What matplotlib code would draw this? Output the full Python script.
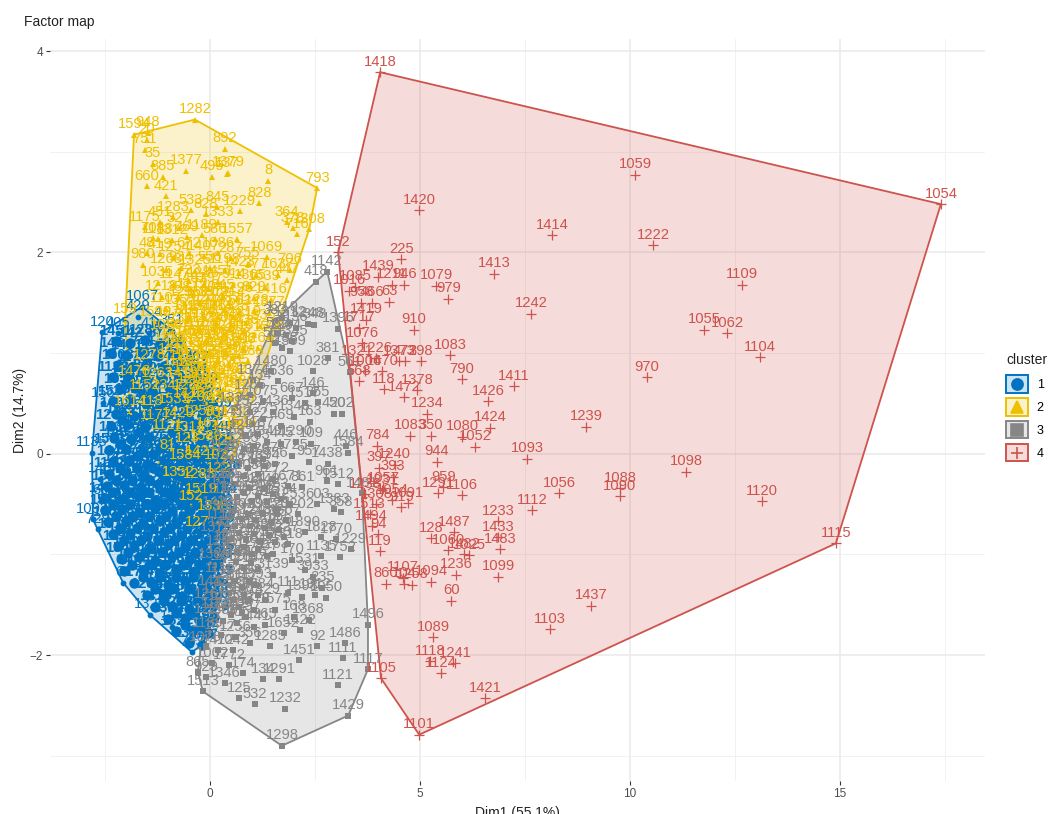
import matplotlib
matplotlib.use("Agg")
import matplotlib.pyplot as plt
from matplotlib.lines import Line2D
from matplotlib.patches import Polygon, Rectangle
from matplotlib.legend_handler import HandlerBase

plt.rcParams['font.family'] = ['Liberation Sans', 'DejaVu Sans']

cluster_names = ['1', '2', '3', '4']
cluster_colors = ['#0073C2', '#EFC000', '#868686', '#CD534C']
cluster_markers = ['o', '^', 's', '+']
x_ticks = [0, 5, 10, 15]
y_ticks = [-2, 0, 2, 4]
x_title = 'Dim1 (55.1%)'
y_title = 'Dim2 (14.7%)'
plot_title = 'Factor map'

blue_outer = [(-2.57,1.21,120),(-1.62,1.46,1067),(-1.72,1.36,429),(-2.2,1.2,405),(-2.81,0.01,1135),(-2.79,-0.65,1093),(-2.67,-0.75,729),
(-2.07,-1.28,61),(-1.43,-1.6,1326),(-0.43,-1.97,793),(-0.9,-1.72,127),(-2.62,-0.25,146),(-2.6,-0.46,66),(-2.55,0.5,156),
(-1.45,1.2,41),(-1.25,1.3,4),(-0.9,1.22,351),(-0.75,1.02,4)]

blue_dense = [(-2.25,1.12,1451),(-1.9,1.1,142),(-1.55,1.13,1288),(-1.2,1.1,377),
(-2.35,1.0,146),(-2.0,0.98,1491),(-1.62,1.01,748),(-1.25,0.97,1521),(-0.85,1.0,226),
(-2.2,0.88,1508),(-1.85,0.86,1170),(-1.5,0.9,562),(-1.1,0.87,1344),(-0.7,0.89,913),(-0.3,0.86,307),
(-2.3,0.76,1133),(-1.95,0.75,1302),(-1.55,0.78,846),(-1.15,0.74,1419),(-0.75,0.77,1227),(-0.35,0.75,684),
(-2.15,0.64,1555),(-1.78,0.65,1204),(-1.38,0.62,473),(-0.98,0.66,1366),(-0.58,0.63,952),(-0.18,0.65,1189),
(-2.3,0.52,1527),(-1.9,0.54,1314),(-1.5,0.5,205),(-1.1,0.53,1176),(-0.7,0.51,638),(-0.3,0.54,1462),(0.05,0.5,871),
(-2.25,0.4,1402),(-1.82,0.38,1268),(-1.42,0.41,534),(-1.0,0.39,1338),(-0.6,0.42,1153),(-0.2,0.38,772),(0.12,0.4,1509),
(-2.35,0.28,1249),(-1.95,0.3,1131),(-1.55,0.27,1445),(-1.15,0.29,617),(-0.75,0.26,1382),(-0.35,0.3,1076),(0.05,0.27,489),
(-2.28,0.16,1536),(-1.88,0.15,1295),(-1.45,0.17,936),(-1.05,0.14,1217),(-0.65,0.18,722),(-0.25,0.15,1354),(0.15,0.16,1045),
(-2.4,0.04,1573),(-2.0,0.05,1186),(-1.6,0.02,341),(-1.2,0.06,1263),(-0.8,0.03,889),(-0.4,0.05,1407),(0.0,0.02,1112),(0.3,0.05,655),
(-2.32,-0.08,1444),(-1.92,-0.07,1278),(-1.5,-0.1,576),(-1.1,-0.06,1329),(-0.7,-0.09,1018),(-0.3,-0.07,263),(0.1,-0.1,1492),
(-2.4,-0.2,1162),(-2.0,-0.19,1375),(-1.6,-0.22,804),(-1.2,-0.18,1241),(-0.8,-0.21,445),(-0.4,-0.2,1356),(0.0,-0.19,997),(0.35,-0.22,1168),
(-2.45,-0.32,1512),(-2.05,-0.31,1207),(-1.65,-0.33,691),(-1.25,-0.3,1391),(-0.85,-0.34,1143),(-0.45,-0.31,538),(-0.05,-0.33,1274),(0.3,-0.3,826),
(-2.5,-0.44,1423),(-2.1,-0.45,1182),(-1.7,-0.42,373),(-1.3,-0.46,1309),(-0.9,-0.43,1126),(-0.5,-0.45,756),(-0.1,-0.42,1468),(0.25,-0.44,1034),
(-2.5,-0.56,1539),(-2.1,-0.55,1253),(-1.7,-0.58,915),(-1.3,-0.54,1347),(-0.9,-0.57,618),(-0.5,-0.55,1198),(-0.1,-0.58,1411),(0.25,-0.56,282),
(-2.42,-0.68,1065),(-2.0,-0.67,1385),(-1.6,-0.7,743),(-1.2,-0.66,1229),(-0.8,-0.69,1473),(-0.4,-0.67,592),(0.0,-0.7,1158),(0.3,-0.68,937),
(-2.3,-0.8,1516),(-1.9,-0.79,1287),(-1.5,-0.82,464),(-1.1,-0.78,1362),(-0.7,-0.81,1095),(-0.3,-0.79,821),(0.1,-0.82,1434),
(-2.2,-0.92,1191),(-1.8,-0.91,1336),(-1.4,-0.94,678),(-1.0,-0.9,1255),(-0.6,-0.93,1007),(-0.2,-0.91,1489),(0.15,-0.94,356),
(-2.1,-1.04,1546),(-1.7,-1.03,1219),(-1.3,-1.06,905),(-0.9,-1.02,1378),(-0.5,-1.05,1149),(-0.1,-1.03,527),(0.2,-1.06,1312),
(-2.05,-1.16,64),(-1.6,-1.15,1444),(-1.2,-1.18,763),(-0.8,-1.14,1288),(-0.4,-1.17,1056),(0.0,-1.15,1397),
(-1.8,-1.28,1176),(-1.4,-1.27,648),(-1.0,-1.3,1345),(-0.6,-1.26,1211),(-0.2,-1.29,892),(0.15,-1.27,1503),
(-1.5,-1.4,1238),(-1.1,-1.39,1459),(-0.7,-1.42,587),(-0.3,-1.38,1122),(0.05,-1.41,1368),
(-1.3,-1.52,1416),(-0.9,-1.51,1074),(-0.5,-1.54,719),(-0.1,-1.5,1265),
(-1.0,-1.64,1332),(-0.6,-1.63,1481),(-0.2,-1.66,946),(0.1,-1.62,1173),
(-0.8,-1.76,1527),(-0.4,-1.75,1208),(-0.05,-1.78,632),(-0.5,-1.88,1394),(-0.2,-1.9,1087),
(-2.0,0.7,1561),(-1.6,0.58,1283),(-1.2,0.45,1456),(-0.8,0.58,1091),(-0.4,0.46,1347),(-2.1,0.34,1522),(-1.7,0.22,1164),(-1.3,0.35,1408),(-0.9,0.22,1275),(-0.5,0.34,1139),
(-2.15,0.1,1483),(-1.75,-0.02,1226),(-1.35,0.0,1367),(-0.95,-0.02,1154),(-0.55,-0.03,1298),(-0.15,-0.02,1072),(-2.15,-0.14,1439),(-1.75,-0.14,1317),(-1.35,-0.14,1086),(-0.95,-0.14,1243),(-0.55,-0.14,1405),(-0.15,-0.14,1181),(0.2,-0.04,1329),
(-2.25,-0.26,1518),(-1.85,-0.26,1124),(-1.45,-0.26,1376),(-1.05,-0.26,1245),(-0.65,-0.26,1093),(-0.25,-0.26,1462),(0.15,-0.26,1208),
(-2.3,-0.38,1351),(-1.9,-0.38,1172),(-1.5,-0.38,1294),(-1.1,-0.38,1437),(-0.7,-0.38,1056),(-0.3,-0.38,1383),(0.1,-0.38,1219),
(-2.3,-0.5,1264),(-1.9,-0.5,1408),(-1.5,-0.5,1135),(-1.1,-0.5,1372),(-0.7,-0.5,1281),(-0.3,-0.5,1096),(0.1,-0.5,1443),
(-2.25,-0.62,1117),(-1.85,-0.62,1356),(-1.45,-0.62,1229),(-1.05,-0.62,1474),(-0.65,-0.62,1183),(-0.25,-0.62,1305),(0.15,-0.62,1068),
(-2.15,-0.74,1392),(-1.75,-0.74,1241),(-1.35,-0.74,1163),(-0.95,-0.74,1327),(-0.55,-0.74,1458),(-0.15,-0.74,1206),(0.2,-0.74,1049),
(-2.05,-0.86,1284),(-1.65,-0.86,1419),(-1.25,-0.86,1136),(-0.85,-0.86,1375),(-0.45,-0.86,1228),(-0.05,-0.86,1097),
(-1.95,-0.98,1448),(-1.55,-0.98,1215),(-1.15,-0.98,1362),(-0.75,-0.98,1179),(-0.35,-0.98,1306),(0.05,-0.98,1423),
(-1.85,-1.1,1252),(-1.45,-1.1,1391),(-1.05,-1.1,1108),(-0.65,-1.1,1346),(-0.25,-1.1,1273),(0.15,-1.1,1185),
(-1.6,-1.22,1337),(-1.2,-1.22,1164),(-0.8,-1.22,1429),(-0.4,-1.22,1258),(-0.05,-1.22,1372),
(-1.3,-1.34,1196),(-0.9,-1.34,1311),(-0.5,-1.34,1467),(-0.1,-1.34,1234),(-1.1,-1.46,1383),(-0.7,-1.46,1152),(-0.3,-1.46,1275),(0.05,-1.5,1406),
(-0.8,-1.58,1218),(-0.4,-1.58,1349),(-0.6,-1.7,1126),(-0.2,-1.72,1495)]

yellow = [(-1.81,3.17,1594),(-1.48,3.19,948),(-0.36,3.32,1282),(2.55,2.64,793),(-1.5,3.12,20),(0.36,3.03,892),(-0.57,2.81,1377),
(0.05,2.75,499),(0.43,2.79,1379),(0.4,2.78,137),(1.38,2.71,8),(-1.5,2.66,660),(-1.55,3.02,751),(-1.36,2.88,35),(-1.12,2.75,385),(-1.05,2.56,421),
(1.17,2.49,828),(0.17,2.45,845),(0.71,2.41,1229),(1.83,2.3,364),(2.36,2.23,1308),(1.98,2.24,378),(2.07,2.18,716),(0.64,2.13,1557),
(-1.36,2.14,704),(-0.88,2.35,1283),(1.83,1.73,447),(-1.6,1.88,980),(-1.5,1.99,48),(0.9,1.89,755),(1.9,1.83,706),(-2.02,1.33,159),
(0.71,0.75,45),(-1.02,-0.02,81),(1.35,1.95,1069),(1.62,1.78,1637),(-1.55,2.25,1175),(-1.2,2.3,451),(-0.75,2.24,327),
(-0.45,2.42,533),(-0.1,2.38,828),(0.2,2.3,1333),(-1.25,2.13,1188),(-0.9,2.12,1312),(-0.55,2.15,469),(-0.2,2.17,1189),(0.12,2.13,586),
(-1.2,1.98,419),(-0.85,1.95,1254),(-0.5,1.99,672),(-0.15,1.96,1407),(0.2,1.99,1086),(0.5,1.94,287),
(-1.05,1.83,1263),(-0.7,1.85,934),(-0.35,1.82,1325),(0.0,1.85,556),(0.35,1.83,1198),(0.7,1.8,1423),(1.1,1.78,377),
(-1.25,1.7,1035),(-0.85,1.68,1147),(-0.5,1.72,723),(-0.15,1.69,1286),(0.2,1.71,1451),(0.55,1.68,914),(0.95,1.67,1365),(1.3,1.66,1539),
(-1.15,1.56,1218),(-0.75,1.55,388),(-0.4,1.58,1172),(-0.05,1.55,1304),(0.3,1.57,645),(0.65,1.54,1296),(1.05,1.55,829),(1.45,1.53,1416),
(-1.05,1.44,1107),(-0.7,1.42,1355),(-0.35,1.45,702),(0.0,1.42,1248),(0.35,1.44,1483),(0.7,1.41,563),(1.05,1.42,1128),(1.4,1.4,1377),
(-1.3,1.3,1590),(-0.9,1.3,1274),(-0.55,1.32,816),(-0.2,1.29,1163),(0.15,1.31,1402),(0.5,1.28,478),(0.85,1.3,1219),(1.2,1.27,1335),
(-1.05,1.18,1056),(-0.7,1.18,1441),(-0.35,1.2,637),(0.0,1.17,1292),(0.35,1.19,1124),(0.7,1.16,985),(1.05,1.18,1372),(1.4,1.16,1508),
(-0.95,1.06,1236),(-0.6,1.05,1383),(-0.25,1.08,754),(0.1,1.05,1169),(0.45,1.07,1315),(0.8,1.04,596),(1.15,1.05,1264),
(-0.85,0.94,1431),(-0.5,0.93,1078),(-0.15,0.96,825),(0.2,0.93,1357),(0.55,0.95,1206),(0.9,0.92,1488),
(-1.45,0.88,1278),(-0.75,0.82,1195),(-0.4,0.81,1342),(-0.05,0.84,916),(0.3,0.81,1457),(0.65,0.83,735),
(-1.8,0.72,1476),(-1.25,0.7,1263),(-0.65,0.7,1419),(-0.3,0.69,1101),(0.05,0.72,568),(0.4,0.69,1325),(0.7,0.62,1386),
(-1.55,0.58,1152),(-1.0,0.58,1347),(-0.5,0.58,1282),(-0.15,0.57,864),(0.2,0.6,1473),(0.5,0.55,1196),
(-1.9,0.42,1614),(-1.4,0.42,118),(-0.85,0.44,1533),(-0.3,0.46,1207),(0.05,0.45,742),(0.35,0.44,1368),
(-1.3,0.28,1177),(-0.75,0.3,1429),(-0.25,0.32,1258),(0.15,0.31,936),(0.5,0.3,1122),
(-1.0,0.18,1121),(-0.5,0.16,1314),(-0.05,0.2,162),(0.4,0.17,1495),(0.75,0.2,1506),
(-0.55,0.05,123),(-0.1,0.07,1589),(0.35,0.02,129),(-0.6,-0.12,1584),(-0.2,-0.08,1421),(0.25,-0.12,1027),
(-0.75,-0.28,1352),(-0.25,-0.3,1283),(0.2,-0.25,122),(-0.45,-0.52,152),(-0.2,-0.45,1519),(0.08,-0.62,1338),(-0.3,-0.78,127),
(-0.6,1.24,1361),(-0.25,1.24,1143),(0.1,1.24,1287),(0.45,1.24,1052),(0.8,1.22,1436),(-0.8,1.12,1218),(-0.45,1.12,1375),(-0.1,1.12,1096),(0.25,1.12,1264),(0.6,1.1,1403),
(-0.7,1.0,1327),(-0.35,1.0,1154),(0.0,1.0,1482),(0.35,1.0,1209),(0.7,0.98,1361),(-0.6,0.88,1173),(-0.25,0.88,1298),(0.1,0.88,1445),(0.45,0.88,1082),
(-0.5,0.76,1336),(-0.15,0.76,1217),(0.2,0.76,1091),(0.5,0.74,1452),(-0.4,0.64,1268),(-0.05,0.64,1185),(0.3,0.64,1379),(0.6,0.48,1124),(-0.5,0.5,1416),(-0.1,0.5,1235),
(-0.5,1.36,1192),(-0.15,1.36,1347),(0.2,1.36,1063),(0.55,1.36,1428),(-0.6,1.5,1256),(-0.25,1.5,1139),(0.1,1.5,1372),(0.45,1.5,1214),(-0.45,1.64,1483),(-0.05,1.64,1197)]

gray = [(1.71,-2.9,1298),(3.29,-2.6,1429),(1.79,-2.53,1232),(3.05,-2.3,1121),(3.17,-2.03,1111),(3.76,-2.14,1117),(3.76,-1.7,1496),(3.21,-1.88,1486),
(2.12,-2.05,1451),(1.64,-2.24,1291),(1.26,-2.24,134),(1.07,-2.49,532),(0.69,-2.43,125),(0.79,-2.18,174),(-0.17,-2.36,1513),(-0.29,-2.17,865),
(0.95,-1.88,356),(1.43,-1.91,1285),(2.55,-1.91,92),(2.76,-1.43,1050),(2.67,-1.33,235),(2.57,0.51,355),(2.38,0.32,163),(3.14,0.4,202),(2.95,0.4,450),
(3.29,0.01,1584),(3.24,0.08,446),(3.62,-0.39,1481),(3.12,-0.58,358),(2.45,0.82,1028),(2.81,0.95,381),(3.33,0.81,561),(3.05,1.24,1396),
(2.33,1.29,1248),(2.48,1.28,348),(2.79,1.81,1142),(2.52,1.71,418),(1.55,1.32,383),(1.72,1.35,1219),(1.9,1.3,1312),(2.05,1.25,136),(1.6,1.2,582),
(1.8,1.18,1204),(1.95,1.12,1345),(1.55,1.1,566),(1.72,1.05,1288),(1.9,1.02,1359),(1.02,0.73,1374),(1.2,0.68,134),(1.45,0.82,1480),(1.62,0.72,6536),
(1.95,0.55,667),(2.25,0.5,1517),(2.0,0.37,1346),(1.5,0.42,1436),(1.7,0.28,469),(1.25,0.35,1275),(2.45,0.6,146),
(1.0,0.3,1322),(1.35,0.12,1349),(1.7,0.1,445),(2.05,0.12,1290),(2.4,0.1,109),(1.55,-0.1,756),(1.95,-0.02,1725),(2.35,-0.08,957),(2.8,-0.1,1438),
(1.25,-0.05,1267),(1.85,-0.32,1671),(2.2,-0.33,861),(2.78,-0.27,961),(3.05,-0.3,1512),(2.55,-0.5,603),(2.95,-0.55,1383),(2.1,-0.6,1202),
(1.6,-0.6,120),(2.25,-0.78,1890),(2.65,-0.83,1828),(3.0,-0.85,1770),(3.35,-0.95,1229),(3.1,-1.03,1752),(2.65,-1.02,1135),(1.95,-1.05,170),(2.25,-1.15,1531),
(2.45,-1.22,3933),(1.5,-1.2,3139),(1.85,-1.38,111),(2.2,-1.42,1398),(2.5,-1.4,1912),(1.55,-1.55,1575),(2.0,-1.62,168),(2.35,-1.65,1368),(1.3,-1.7,965),
(1.75,-1.78,1652),(2.15,-1.75,1422),(0.75,-1.58,859),
(0.95,0.58,1265),(0.6,0.45,1334),(0.95,0.42,1521),(1.25,0.52,1075),(0.6,0.32,1432),(0.85,0.18,1294),(1.15,0.2,1187),(0.45,0.12,1368),(0.8,0.05,1255),(1.05,0.08,1463),
(0.35,-0.02,1126),(0.7,-0.1,1349),(1.05,-0.07,1578),(0.45,-0.17,1218),(0.8,-0.22,1403),(1.15,-0.2,936),(1.5,-0.25,1272),(0.25,-0.3,1186),(0.6,-0.3,1357),(0.95,-0.34,1024),(1.3,-0.35,1449),
(0.3,-0.45,1162),(0.65,-0.43,1295),(1.0,-0.47,1338),(1.35,-0.48,816),(1.7,-0.45,1574),(0.2,-0.58,1423),(0.55,-0.57,1217),(0.9,-0.6,1089),(1.25,-0.6,1365),(1.6,-0.55,745),(1.9,-0.5,1253),
(0.25,-0.7,1158),(0.6,-0.72,1331),(0.95,-0.72,1487),(1.3,-0.74,1204),(1.65,-0.76,926),(0.15,-0.83,1376),(0.5,-0.85,1142),(0.85,-0.85,1268),(1.2,-0.87,1455),(1.55,-0.88,1093),(1.85,-0.9,1318),
(0.3,-0.97,1245),(0.65,-0.98,1412),(1.0,-1.0,1177),(1.35,-1.02,857),(0.1,-1.1,1389),(0.45,-1.12,1036),(0.8,-1.13,1264),(1.15,-1.14,1471),(0.25,-1.24,1155),(0.6,-1.26,1328),(0.95,-1.26,998),
(0.1,-1.37,1442),(0.45,-1.38,1213),(0.8,-1.4,1356),(1.15,-1.4,1084),(0.0,-1.5,1267),(0.35,-1.52,1495),(0.7,-1.52,1132),(1.05,-1.55,1378),(0.0,-1.65,1224),(0.3,-1.66,1356),(0.65,-1.68,905),(1.05,-1.72,1441),
(-0.05,-1.78,1189),(0.25,-1.8,1317),(0.6,-1.82,1256),(-0.1,-1.92,1078),(0.2,-1.95,1472),(0.55,-1.95,1042),(0.05,-2.08,1002),(0.45,-2.1,1772),(-0.1,-2.22,929),(0.35,-2.28,1346),
(0.5,-0.05,1283),(0.9,-0.14,1176),(1.3,-0.12,1394),(0.4,-0.36,1057),(0.8,-0.38,1326),(1.15,-0.42,1208),(1.5,-0.4,1463),(0.45,-0.62,1339),(0.75,-0.65,1172),(1.1,-0.66,1248),(1.45,-0.68,1095),(1.8,-0.66,1367),
(0.35,-0.78,1414),(0.7,-0.79,1283),(1.05,-0.8,1136),(1.4,-0.81,1352),(1.75,-0.83,1227),(0.45,-0.92,1196),(0.8,-0.93,1378),(1.15,-0.95,1042),(1.5,-1.0,1263),(0.3,-1.05,1324),(0.62,-1.07,1159),(0.98,-1.08,1406),
(0.42,-1.3,1281),(0.75,-1.32,1147),(1.1,-1.3,1393),(0.2,-1.45,1215),(0.55,-1.45,1368),(0.9,-1.46,1073),(1.3,-1.45,1429),(0.15,-1.6,1186),(0.5,-1.6,1332),(0.85,-1.62,1257)]

red = [(4.05,3.79,1418),(10.12,2.77,1059),(17.4,2.48,1054),(4.98,2.42,1420),(8.14,2.17,1414),(10.55,2.07,1222),(3.05,2.0,152),(4.55,1.93,225),
(6.76,1.79,1413),(12.67,1.68,1109),(5.38,1.67,1079),(5.67,1.54,979),(4.0,1.76,1439),(4.33,1.68,1211),(4.62,1.68,946),(7.64,1.39,1242),(3.86,1.5,466),
(4.26,1.51,63),(3.31,1.62,1016),(3.45,1.66,1085),(3.6,1.5,958),(3.71,1.33,1419),(4.86,1.23,910),(11.76,1.23,1055),(12.31,1.2,1062),(13.1,0.96,1104),
(10.4,0.76,970),(5.71,0.98,1083),(5.02,0.92,398),(6.0,0.74,790),(7.24,0.67,1411),(6.62,0.52,1426),(5.17,0.4,1234),(4.93,0.63,1378),(4.62,0.56,1472),
(4.14,0.64,118),(3.55,0.72,568),(8.95,0.27,1239),(6.67,0.26,1424),(5.26,0.18,350),(4.76,0.18,1083),(6.0,0.17,1080),(6.31,0.07,1052),(7.55,-0.05,1093),
(3.98,0.08,784),(5.4,-0.08,944),(11.33,-0.18,1098),(9.76,-0.34,1088),(9.76,-0.42,1090),(13.14,-0.47,1120),(14.9,-0.89,1115),(8.31,-0.39,1056),
(7.67,-0.56,1112),(6.0,-0.41,1106),(6.86,-0.67,1233),(6.86,-0.83,1433),(6.9,-0.95,1483),(5.81,-0.78,1487),(5.26,-0.84,128),(5.67,-0.96,1060),
(6.05,-1.0,1482),(6.17,-1.01,1025),(6.86,-1.22,1099),(5.86,-1.2,1236),(5.74,-1.46,60),(5.26,-1.27,1094),(4.6,-1.23,1107),(4.81,-1.3,1258),(4.62,-1.29,104),
(4.19,-1.29,860),(9.07,-1.51,1437),(8.1,-1.74,1103),(5.31,-1.82,1089),(5.24,-2.06,1118),(5.83,-2.08,1241),(5.5,-2.18,1124),(6.55,-2.43,1421),(4.07,-2.23,1105),
(4.98,-2.79,1101),(4.05,-0.97,119),(4.02,-0.14,397),(4.4,-0.11,1240),(4.36,-0.23,393),(4.1,-0.36,1231),(5.55,-0.33,959),(5.43,-0.39,1291),(4.33,-0.46,1054),
(4.71,-0.49,1091),(4.55,-0.53,919),(4.12,-0.34,1057),(3.7,-0.4,1238),(3.8,-0.6,1513),(3.95,-0.5,1308),(3.85,-0.72,1494),(4.0,-0.8,94),(3.55,1.25,1717),
(3.62,1.1,1076),(3.5,0.92,1321),(3.95,0.95,1226),(4.5,0.92,1373),(4.65,0.92,472),(3.7,0.82,1006),(4.1,0.82,1470)]

series = [blue_outer + blue_dense, yellow, gray, red]


def convex_hull(points):
    pts = sorted(set((p[0], p[1]) for p in points))
    def half(seq):
        out = []
        for p in seq:
            while len(out) > 1 and ((out[-1][0]-out[-2][0])*(p[1]-out[-2][1]) -
                                    (out[-1][1]-out[-2][1])*(p[0]-out[-2][0])) <= 0:
                out.pop()
            out.append(p)
        return out[:-1]
    return half(pts) + half(pts[::-1])


class KeyHandler(HandlerBase):
    def __init__(self, color, marker):
        super().__init__()
        self.color, self.marker = color, marker

    def create_artists(self, legend, orig, xd, yd, width, height, fontsize, trans):
        r = Rectangle((-xd, -yd), width, height, facecolor=self.color + '33',
                      edgecolor=self.color, linewidth=1.4, transform=trans)
        m = Line2D([-xd + width/2], [-yd + height/2], marker=self.marker, color=self.color,
                   markersize=8, markeredgewidth=1.2, linestyle='none', transform=trans)
        return [r, m]


fig = plt.figure(figsize=(10.5, 8.14), dpi=100)
ax = fig.add_axes([50/1050, 1-781/814, 935/1050, 742/814])
ax.set_xlim(-3.81, 18.45)
ax.set_ylim(-3.25, 4.12)

ax.set_xticks(x_ticks)
ax.set_yticks(y_ticks)
ax.set_xticks([-2.5, 2.5, 7.5, 12.5, 17.5], minor=True)
ax.set_yticks([-3, -1, 1, 3], minor=True)
ax.grid(True, which='major', color='#E9E9E9', linewidth=1.1)
ax.grid(True, which='minor', color='#F1F1F1', linewidth=0.7)
ax.set_axisbelow(True)
for s in ax.spines.values():
    s.set_visible(False)
ax.tick_params(which='minor', length=0)
ax.tick_params(which='major', length=3, width=0.8, color='#333333', labelsize=8.5, labelcolor='#4D4D4D', pad=2)
ax.set_xlabel(x_title, fontsize=10, labelpad=4, color='#222222')
ax.set_ylabel(y_title, fontsize=10, labelpad=2, color='#222222')
fig.text(24/1050, 1-22/814, plot_title, fontsize=10, ha='left', va='center', color='#222222')

for pts, c in zip(series, cluster_colors):
    ax.add_patch(Polygon(convex_hull(pts), closed=True, facecolor=c, alpha=0.2, edgecolor='none', zorder=1))
    ax.add_patch(Polygon(convex_hull(pts), closed=True, fill=False, edgecolor=c, linewidth=1.3, zorder=1.2))

for i, (pts, c, m) in enumerate(zip(series, cluster_colors, cluster_markers)):
    ax.plot([p[0] for p in pts], [p[1] for p in pts], linestyle='none', marker=m, color=c,
            markersize=7 if m == '+' else 4.2, markeredgewidth=0.9 if m == '+' else 0, zorder=2 + i)
# the core of cluster 1 is a solid mass in the reference: heavier marks there
ax.plot([p[0] for p in blue_dense], [p[1] for p in blue_dense], linestyle='none', marker='o',
        color=cluster_colors[0], markersize=7.5, markeredgewidth=0, zorder=2.5)

for i, (pts, c) in enumerate(zip(series, cluster_colors)):
    dense = set(p[:2] for p in blue_dense) if i == 0 else set()
    for x, y, lab in pts:
        ax.annotate(str(lab), (x, y), xytext=(0, 2.5), textcoords='offset points', ha='center', va='bottom',
                    fontsize=10.6, color=c, zorder=6 + i, annotation_clip=True,
                    fontweight='bold' if (x, y) in dense else 'normal')

handles = [Rectangle((0, 0), 1, 1) for _ in cluster_names]
leg = fig.legend(handles, cluster_names, title='cluster', loc='upper left',
                 bbox_to_anchor=(1006/1050, 1-353/814), frameon=False, fontsize=9, title_fontsize=10,
                 handlelength=1.75, handleheight=1.75, labelspacing=0.45, handletextpad=0.7, borderpad=0, borderaxespad=0,
                 handler_map={h: KeyHandler(c, m) for h, c, m in zip(handles, cluster_colors, cluster_markers)})
leg.get_title().set_color('#222222')
leg._legend_box.align = 'left'
leg._legend_box.sep = 6

fig.savefig('out.png', dpi=100)
